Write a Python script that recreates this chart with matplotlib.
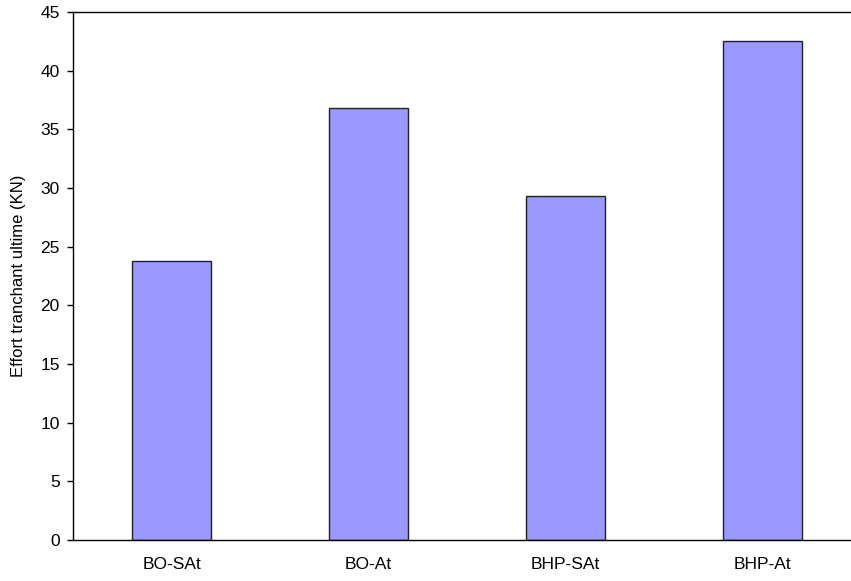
import matplotlib
matplotlib.use("Agg")
import matplotlib.pyplot as plt

categories = ["BO-SAt", "BO-At", "BHP-SAt", "BHP-At"]
values = [23.8, 36.85, 29.3, 42.55]
yticks = [0, 5, 10, 15, 20, 25, 30, 35, 40, 45]

plt.rcParams['font.family'] = ['Liberation Sans', 'DejaVu Sans']

fig = plt.figure(figsize=(8.51, 5.81), dpi=100)
W, H = 851, 581
left, right, top, bottom = 73, 861, 12, 540
ax = fig.add_axes([left / W, (H - bottom) / H, (right - left) / W, (bottom - top) / H])

x = list(range(len(categories)))
ax.bar(x, values, width=0.4, color="#9999FF", edgecolor="#222222", linewidth=1.0, zorder=2)

ax.set_xlim(-0.5, len(categories) - 0.5)
ax.set_ylim(0, 45)
ax.set_yticks(yticks)
ax.set_yticklabels([str(t) for t in yticks], fontsize=12.5)
ax.set_xticks(x)
ax.set_xticklabels(categories, fontsize=12.5)
ax.tick_params(axis='x', length=0, pad=12)
ax.tick_params(axis='y', length=4.5, width=1, direction='out', pad=5)
ax.set_ylabel("Effort tranchant ultime (KN)", fontsize=12, labelpad=10)

ax.spines['right'].set_visible(False)
for s in ['left', 'top', 'bottom']:
    ax.spines[s].set_linewidth(1.0)
    ax.spines[s].set_color('black')

fig.savefig("out.png", dpi=100)
